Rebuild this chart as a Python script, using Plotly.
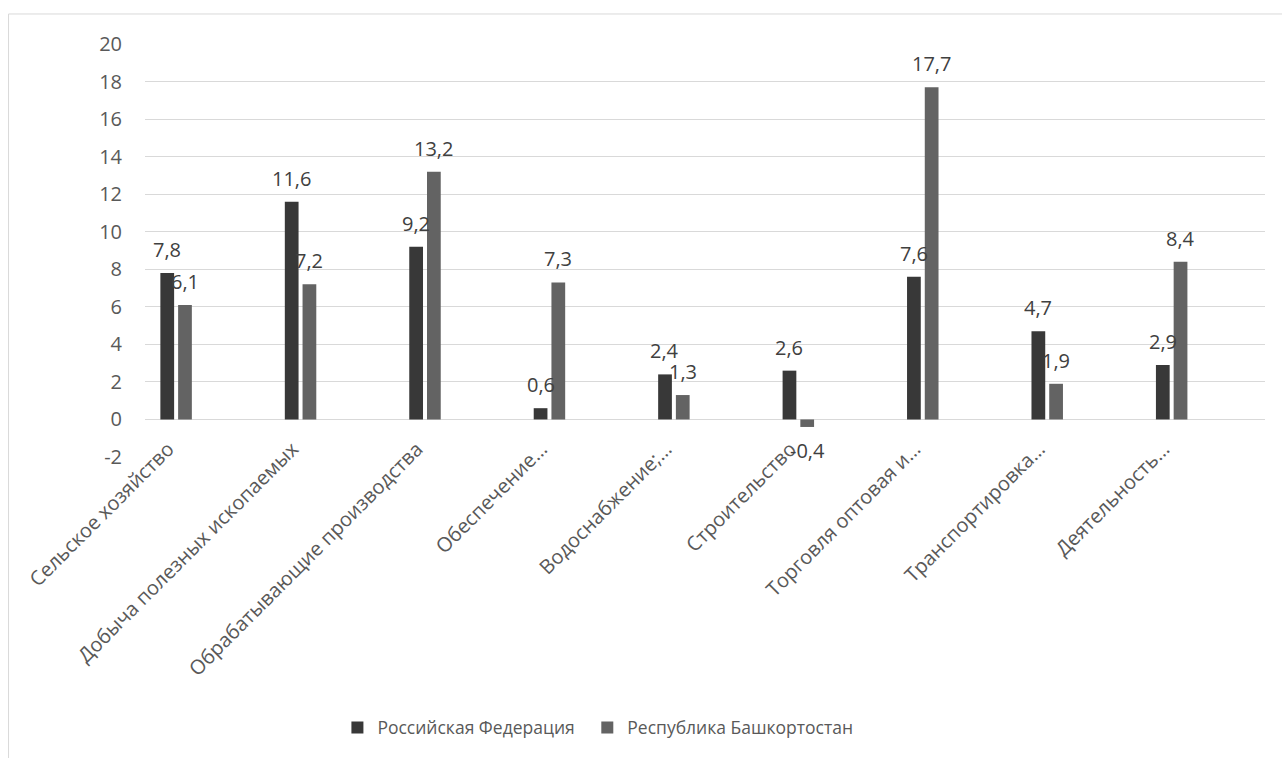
import plotly.graph_objects as go

# Sectors (labels shortened as shown on the axis)
categories = [
    "Сельское хозяйство",
    "Добыча полезных ископаемых",
    "Обрабатывающие производства",
    "Обеспечение…",
    "Водоснабжение;…",
    "Строительство",
    "Торговля оптовая и…",
    "Транспортировка…",
    "Деятельность…",
]
series_names = ["Российская Федерация", "Республика Башкортостан"]
values_rf = [7.8, 11.6, 9.2, 0.6, 2.4, 2.6, 7.6, 4.7, 2.9]
values_rb = [6.1, 7.2, 13.2, 7.3, 1.3, -0.4, 17.7, 1.9, 8.4]
y_ticks = [-2, 0, 2, 4, 6, 8, 10, 12, 14, 16, 18, 20]

colors = ["#383838", "#636363"]
FONT = "Open Sans"
TEXT_COLOR = "#595959"

W, H = 1282, 758
M_L, M_R, M_T = 144.5, 17, 44
PLOT_H = 412.6
M_B = H - M_T - PLOT_H
PLOT_W = W - M_L - M_R


def fmt(v):
    return f"{v:.1f}".replace(".", ",")


fig = go.Figure()
for name, vals, col, leg in zip(series_names, [values_rf, values_rb], colors,
                                ["legend", "legend2"]):
    fig.add_trace(go.Bar(
        x=categories, y=vals, name=name, legend=leg,
        marker=dict(color=col, line=dict(width=0)),
    ))

# value labels above (or below, for negatives) each bar
annotations = []
for shift, vals in zip([-8.9, 8.9], [values_rf, values_rb]):
    for c, v in zip(categories, vals):
        annotations.append(dict(
            x=c, y=v, xref="x", yref="y", text=fmt(v), showarrow=False,
            xshift=shift, yshift=8 if v >= 0 else -8,
            yanchor="bottom" if v >= 0 else "top",
            font=dict(family=FONT, size=20, color="#404040"),
        ))

zero_pos = 2 / 22  # y=0 as a fraction of the plot height
legend_y = -(727 - (M_T + PLOT_H)) / PLOT_H


def legend_at(px):
    return dict(
        orientation="h", x=(px - M_L) / PLOT_W, xanchor="left",
        y=legend_y, yanchor="middle", itemwidth=30,
        font=dict(family=FONT, size=17.5, color=TEXT_COLOR),
    )


fig.update_layout(
    width=W, height=H,
    margin=dict(l=M_L, r=M_R, t=M_T, b=M_B, autoexpand=False),
    paper_bgcolor="white", plot_bgcolor="white",
    barmode="group", bargap=0.715, bargroupgap=0.225,
    font=dict(family=FONT, size=20, color=TEXT_COLOR),
    annotations=annotations,
    showlegend=True,
    legend=legend_at(337),
    legend2=legend_at(587),
    xaxis=dict(
        type="category", range=[-0.25, 8.75],
        anchor="free", position=zero_pos,
        showgrid=False, showline=False, zeroline=False, ticks="",
        tickangle=-45, tickfont=dict(family=FONT, size=20, color=TEXT_COLOR),
        ticklabelstandoff=13, ticklabelshift=-8,
        automargin=False,
    ),
    yaxis=dict(
        range=[-2, 20], tickvals=y_ticks, ticktext=[str(t) for t in y_ticks],
        showgrid=True, gridcolor="#d9d9d9", gridwidth=1,
        zeroline=False, showline=False, ticks="",
        ticklabelstandoff=22,
        tickfont=dict(family=FONT, size=20, color=TEXT_COLOR),
        automargin=False,
    ),
    shapes=[dict(
        type="rect", xref="paper", yref="paper",
        x0=(8 - M_L) / PLOT_W, x1=(W + 10 - M_L) / PLOT_W,
        y0=-(H + 10 - (M_T + PLOT_H)) / PLOT_H, y1=(M_T + PLOT_H - 14) / PLOT_H,
        line=dict(color="#d9d9d9", width=1), layer="below",
    )],
)

fig.write_html("out.html")
